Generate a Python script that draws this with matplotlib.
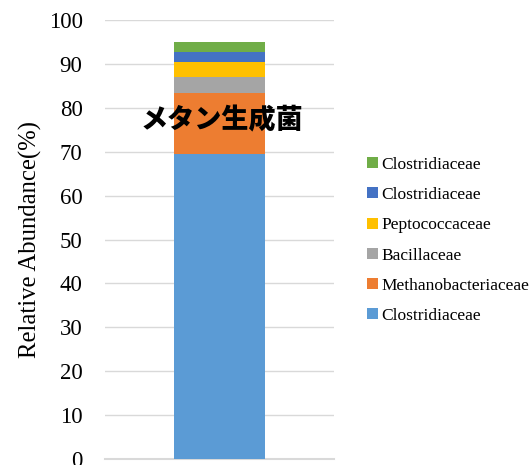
import matplotlib
matplotlib.use('Agg')
import matplotlib.pyplot as plt

# Stacked abundance values (bottom to top)
families = ['Clostridiaceae', 'Methanobacteriaceae', 'Bacillaceae',
            'Peptococcaceae', 'Clostridiaceae', 'Clostridiaceae']
values = [69.5, 13.8, 3.8, 3.4, 2.3, 2.2]
colors = ['#5B9BD5', '#ED7D31', '#A5A5A5', '#FFC000', '#4472C4', '#70AD47']
yticks = [0, 10, 20, 30, 40, 50, 60, 70, 80, 90, 100]

serif = ['Liberation Serif', 'DejaVu Serif']

fig = plt.figure(figsize=(5.32, 4.65), dpi=100)
ax = fig.add_axes([0.197, 0.0129, 0.431, 0.944])

bottom = 0
bars = []
for name, v, c in zip(families, values, colors):
    b = ax.bar(0, v, width=0.4, bottom=bottom, color=c, label=name, zorder=3)
    bars.append(b)
    bottom += v

ax.set_xlim(-0.5, 0.5)
ax.set_ylim(0, 100)
ax.set_yticks(yticks)
ax.set_xticks([])
ax.grid(axis='y', color='#d9d9d9', linewidth=1, zorder=0)
for s in ['top', 'right', 'left']:
    ax.spines[s].set_visible(False)
ax.spines['bottom'].set_color('#d9d9d9')
ax.spines['bottom'].set_linewidth(1.5)
ax.tick_params(axis='y', length=0, pad=16)
for lab in ax.get_yticklabels():
    lab.set_fontfamily(serif)
    lab.set_fontsize(16.5)
ax.set_ylabel('Relative Abundance(%)', family=serif, fontsize=17.8, labelpad=5)

ax.text(0.01, 77.3, 'メタン生成菌', ha='center', va='center', fontsize=19.5,
        family=['Noto Sans CJK JP', 'DejaVu Sans'], weight='heavy', zorder=4)

leg = fig.legend(handles=bars[::-1], labels=families[::-1],
                 loc='center left', bbox_to_anchor=(0.674, 0.483),
                 frameon=False, borderpad=0, handlelength=0.6, handleheight=0.6,
                 handletextpad=0.2, labelspacing=0.82,
                 prop={'family': serif, 'size': 12.5})

fig.savefig('out.png', dpi=100)
